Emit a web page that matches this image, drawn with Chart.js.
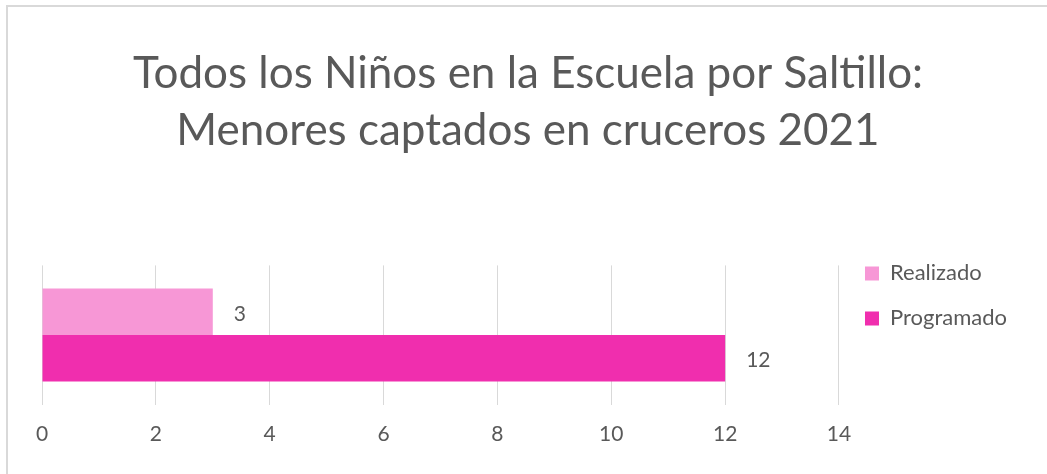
<!DOCTYPE html>
<html lang="es">
<head>
<meta charset="utf-8">
<title>Menores captados en cruceros 2021</title>
<script src="https://cdn.jsdelivr.net/npm/chart.js@4.4.1/dist/chart.umd.min.js"></script>
<style>
  html, body { margin: 0; padding: 0; background: #fff; }
  #wrap { position: relative; width: 1047px; height: 474px; }
  #frame {
    position: absolute; left: 6px; top: 5px; right: -4px; bottom: -4px;
    border-left: 2px solid #d9d9d9; border-top: 2px solid #d9d9d9;
  }
  #chart { position: absolute; left: 0; top: 0; }
</style>
</head>
<body>
<div id="wrap">
  <div id="frame"></div>
  <canvas id="chart" width="1047" height="474"></canvas>
</div>
<script>
"use strict";

// chart data
const categories = [""];
const seriesNames = ["Realizado", "Programado"];
const realizado = [3];
const programado = [12];
const xTicks = [0, 2, 4, 6, 8, 10, 12, 14];

const TEXT_COLOR = "#595959";
const FONT = "Lato, 'Liberation Sans', sans-serif";

// write the value just past the end of each bar
const barValueLabels = {
  id: "barValueLabels",
  afterDatasetsDraw(chart) {
    const ctx = chart.ctx;
    ctx.save();
    ctx.font = "21px " + FONT;
    ctx.fillStyle = TEXT_COLOR;
    ctx.textAlign = "left";
    ctx.textBaseline = "middle";
    chart.data.datasets.forEach((ds, i) => {
      chart.getDatasetMeta(i).data.forEach((bar, j) => {
        ctx.fillText(ds.data[j], bar.x + 21, bar.y + 2);
      });
    });
    ctx.restore();
  }
};

// legend sits level with the top of the plot, not below its padding
const legendTop = {
  id: "legendTop",
  afterLayout(chart) {
    chart.legend.top = chart.chartArea.top - 26;
    chart.legend.left += 3;
  }
};

const ctx = document.getElementById("chart").getContext("2d");

new Chart(ctx, {
  type: "bar",
  data: {
    labels: categories,
    datasets: [
      {
        label: seriesNames[0],
        data: realizado,
        backgroundColor: "#f797d6"
      },
      {
        label: seriesNames[1],
        data: programado,
        backgroundColor: "#f02eae"
      }
    ]
  },
  options: {
    indexAxis: "y",
    responsive: false,
    animation: false,
    categoryPercentage: 0.667,
    barPercentage: 1,
    layout: {
      padding: { left: 42, right: 33, top: 0, bottom: 10 }
    },
    scales: {
      x: {
        min: xTicks[0],
        max: xTicks[xTicks.length - 1],
        afterBuildTicks(scale) {
          scale.ticks = xTicks.map((v) => ({ value: v }));
        },
        grid: { color: "#d9d9d9", lineWidth: 1, drawTicks: false },
        border: { display: false },
        ticks: {
          padding: 17,
          color: TEXT_COLOR,
          font: { family: FONT, size: 21 }
        }
      },
      y: {
        display: false
      }
    },
    plugins: {
      title: {
        display: true,
        text: [
          "Todos los Niños en la Escuela por Saltillo:",
          "Menores captados en cruceros 2021"
        ],
        color: TEXT_COLOR,
        font: { family: FONT, size: 44, weight: "normal", lineHeight: 1.3 },
        padding: { top: 45, bottom: 106 }
      },
      legend: {
        position: "right",
        align: "start",
        labels: {
          boxWidth: 14,
          boxHeight: 14,
          padding: 23,
          color: TEXT_COLOR,
          font: { family: FONT, size: 22 }
        }
      },
      tooltip: { enabled: false }
    }
  },
  plugins: [barValueLabels, legendTop]
});
</script>
</body>
</html>
